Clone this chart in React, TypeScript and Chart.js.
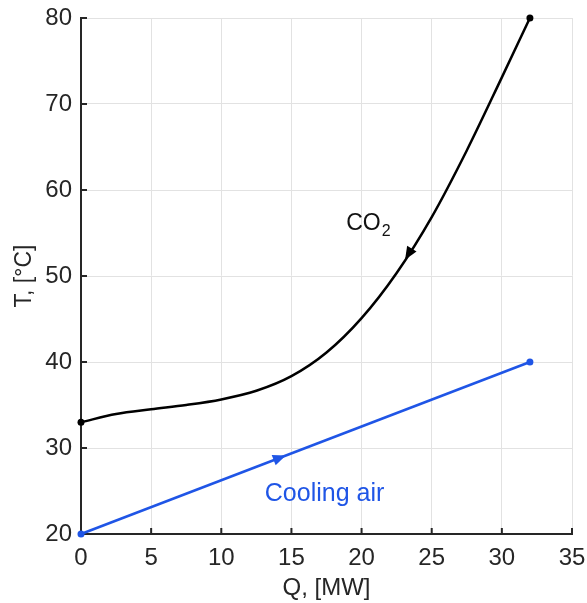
import React, { useEffect, useRef } from "react";
import { Chart, registerables } from "chart.js";

Chart.register(...registerables);

// ---- data ----
const co2Q = [0, 2.5, 5, 7.5, 10, 12.5, 15, 17.5, 20, 22.5, 25, 27.5, 30, 32];
const co2T = [33, 33.95, 34.5, 35.0, 35.65, 36.65, 38.35, 41.1, 45.1, 50.35, 56.85, 64.6, 73.1, 80];
const airQ = [0, 32];
const airT = [20, 40];

const xTicks = [0, 5, 10, 15, 20, 25, 30, 35];
const yTicks = [20, 30, 40, 50, 60, 70, 80];

// arrows: [fromQ, fromT, tipQ, tipT]
const co2Arrow = [23.7, 53.5, 23.1, 51.9];
const airArrow = [13.6, 28.5, 14.6, 29.125];

// labels
const co2LabelPos = [18.9, 55.35];
const airLabelPos = [13.1, 23.8];
const airLabel = "Cooling air";

const BLUE = "#1f55e6";
const FONT = "'Liberation Sans', Arial, Helvetica, sans-serif";
const TEXT = "#262626";

export default function App() {
  const ref = useRef<HTMLCanvasElement | null>(null);
  useEffect(() => {
    if (!ref.current) return;
    const drawArrow = (ctx: CanvasRenderingContext2D, chart: any, a: number[], color: string) => {
      const x = chart.scales.x, y = chart.scales.y;
      const x0 = x.getPixelForValue(a[0]), y0 = y.getPixelForValue(a[1]);
      const x1 = x.getPixelForValue(a[2]), y1 = y.getPixelForValue(a[3]);
      const ang = Math.atan2(y1 - y0, x1 - x0);
      const L = 13, W = 5.5;
      ctx.save();
      ctx.translate(x1, y1);
      ctx.rotate(ang);
      ctx.beginPath();
      ctx.moveTo(0, 0);
      ctx.lineTo(-L, -W);
      ctx.lineTo(-L, W);
      ctx.closePath();
      ctx.fillStyle = color;
      ctx.fill();
      ctx.restore();
    };
    const plugin = {
      id: "custom",
      beforeDatasetsDraw(chart: any) {
        const ctx = chart.ctx;
        const x = chart.scales.x, y = chart.scales.y;
        const area = chart.chartArea;
        ctx.save();
        ctx.strokeStyle = TEXT;
        ctx.lineWidth = 2;
        ctx.beginPath();
        for (const v of xTicks) {
          const px = x.getPixelForValue(v);
          ctx.moveTo(px, area.bottom);
          ctx.lineTo(px, area.bottom - 6);
        }
        for (const v of yTicks) {
          const py = y.getPixelForValue(v);
          ctx.moveTo(area.left, py);
          ctx.lineTo(area.left + 6, py);
        }
        ctx.stroke();
        ctx.restore();
      },
      afterDatasetsDraw(chart: any) {
        const ctx = chart.ctx;
        const x = chart.scales.x, y = chart.scales.y;
        drawArrow(ctx, chart, co2Arrow, "#000");
        drawArrow(ctx, chart, airArrow, BLUE);
        ctx.save();
        ctx.textBaseline = "alphabetic";
        ctx.textAlign = "left";
        // CO2 label
        const cx = x.getPixelForValue(co2LabelPos[0]);
        const cy = y.getPixelForValue(co2LabelPos[1]);
        ctx.fillStyle = "#111";
        ctx.font = `23px ${FONT}`;
        ctx.fillText("CO", cx, cy);
        const w = ctx.measureText("CO").width;
        ctx.font = `16px ${FONT}`;
        ctx.fillText("2", cx + w + 1, cy + 6);
        // air label
        ctx.fillStyle = BLUE;
        ctx.font = `25px ${FONT}`;
        ctx.fillText(airLabel, x.getPixelForValue(airLabelPos[0]), y.getPixelForValue(airLabelPos[1]));
        ctx.restore();
      },
    };

    const pr = (n: number) => (c: any) => (c.dataIndex === 0 || c.dataIndex === n - 1 ? 3.5 : 0);
    const zeroPad = (s: any) => { s.paddingLeft = 0; s.paddingRight = 0; s.paddingTop = 0; s.paddingBottom = 0; };

    const chart = new Chart(ref.current, {
      type: "line",
      data: {
        datasets: [
          {
            data: co2Q.map((q, i) => ({ x: q, y: co2T[i] })),
            borderColor: "#000",
            backgroundColor: "#000",
            borderWidth: 2.5,
            cubicInterpolationMode: "monotone",
            pointRadius: pr(co2Q.length),
            pointBorderWidth: 0,
            clip: false,
          },
          {
            data: airQ.map((q, i) => ({ x: q, y: airT[i] })),
            borderColor: BLUE,
            backgroundColor: BLUE,
            borderWidth: 2.5,
            pointRadius: pr(airQ.length),
            pointBorderWidth: 0,
            clip: false,
          },
        ],
      },
      options: {
        animation: false,
        responsive: false,
        maintainAspectRatio: false,
        layout: { padding: { top: 18, right: 15, left: 0, bottom: 0 } },
        plugins: { legend: { display: false }, tooltip: { enabled: false } },
        scales: {
          x: {
            type: "linear",
            min: 0,
            max: 35,
            afterBuildTicks: (s: any) => { s.ticks = xTicks.map((v) => ({ value: v })); },
            afterFit: (s: any) => { s.height = 69; zeroPad(s); },
            grid: { color: "#e2e2e2", lineWidth: 1, drawTicks: false },
            border: { display: true, color: TEXT, width: 2 },
            ticks: { color: TEXT, font: { size: 24, family: FONT }, padding: 10, maxRotation: 0 },
            title: { display: true, text: "Q, [MW]", color: TEXT, font: { size: 24, family: FONT }, padding: { top: 0, bottom: 0 } },
          },
          y: {
            type: "linear",
            min: 20,
            max: 80,
            afterBuildTicks: (s: any) => { s.ticks = yTicks.map((v) => ({ value: v })); },
            afterFit: (s: any) => { s.width = 81; zeroPad(s); },
            grid: { color: "#e2e2e2", lineWidth: 1, drawTicks: false },
            border: { display: true, color: TEXT, width: 2 },
            ticks: { color: TEXT, font: { size: 24, family: FONT }, padding: 9 },
            title: { display: true, text: "T, [°C]", color: TEXT, font: { size: 23, family: FONT }, padding: { top: 11, bottom: 0 } },
          },
        },
      },
      plugins: [plugin],
    } as any);
    return () => chart.destroy();
  }, []);
  return (
    <div style={{ position: "fixed", left: 0, top: 0, width: 587, height: 603, background: "#fff" }}>
      <canvas ref={ref} width={587} height={603} style={{ width: 587, height: 603, display: "block" }} />
    </div>
  );
}
